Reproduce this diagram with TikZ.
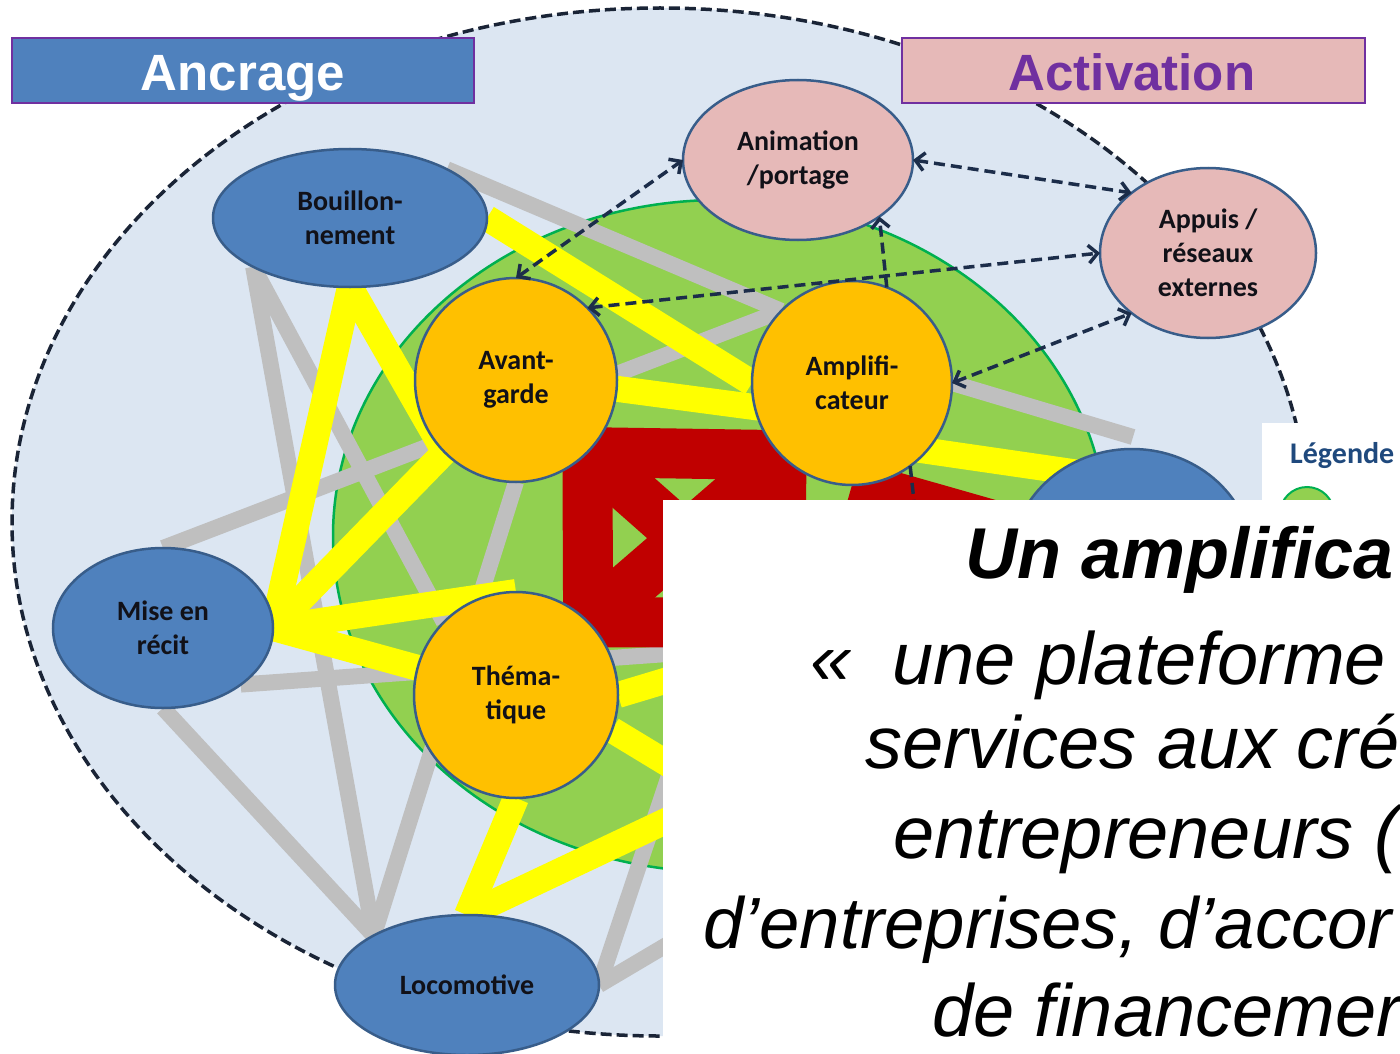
\documentclass[tikz,border=0pt]{standalone}
\usepackage{fontspec}
\setmainfont{Carlito}
\newfontfamily\arialf{Liberation Sans}
\usetikzlibrary{arrows.meta,shapes.geometric,calc}
\definecolor{bgblue}{HTML}{DCE6F2}
\definecolor{grn}{HTML}{92D050}
\definecolor{grnb}{HTML}{00B050}
\definecolor{lgray}{HTML}{BFBFBF}
\definecolor{lyellow}{HTML}{FFFF00}
\definecolor{lred}{HTML}{C00000}
\definecolor{ndblue}{HTML}{4F81BD}
\definecolor{ndborder}{HTML}{385D8A}
\definecolor{ndorange}{HTML}{FFC000}
\definecolor{ndpink}{HTML}{E6B9B8}
\definecolor{ndtext}{HTML}{111118}
\definecolor{purp}{HTML}{7030A0}
\definecolor{arrownavy}{HTML}{1C2D4A}
\definecolor{ringdark}{HTML}{1A2436}
\definecolor{legblue}{HTML}{1F497D}
\pgfdeclarelayer{bg}
\pgfdeclarelayer{lines}
\pgfdeclarelayer{top}
\pgfsetlayers{bg,lines,main,top}
\begin{document}
\begin{tikzpicture}[x=1pt,y=-1pt,
  nd/.style={ellipse, draw=ndborder, line width=2.5pt, inner sep=0pt, outer sep=0pt, align=center, text=ndtext, font=\bfseries\fontsize{28}{34}\selectfont},
  bnode/.style={nd, fill=ndblue},
  onode/.style={nd, fill=ndorange},
  pnode/.style={nd, fill=ndpink},
  gl/.style={draw=lgray, line width=16pt},
  yl/.style={draw=lyellow, line width=26pt},
  rl/.style={draw=lred, line width=50pt},
  da/.style={draw=arrownavy, line width=3.5pt, dash pattern=on 11pt off 6pt},
  dboth/.style={da, arrows={Straight Barb[length=9pt,width=18pt]-Straight Barb[length=9pt,width=18pt]}},
  dend/.style={da, arrows={-Straight Barb[length=9pt,width=18pt]}},
  ovt/.style={anchor=base west, inner sep=0pt, text=black, font=\arialf\itshape\fontsize{74}{74}\selectfont},
  titlebox/.style={draw=purp, line width=2pt, inner sep=0pt, minimum height=65pt},
  titletext/.style={anchor=base, inner sep=0pt, font=\arialf\bfseries\fontsize{51}{51}\selectfont}
]
\useasboundingbox (0,0) rectangle (1400,1054);
\begin{pgfonlayer}{bg}
\fill[white] (0,0) rectangle (1400,1054);
\draw[draw=ringdark, line width=3.5pt, dash pattern=on 11pt off 5pt, fill=bgblue] (660,522) ellipse [x radius=648pt, y radius=514pt];
\draw[draw=grnb, line width=2.5pt, fill=grn] (720,536) ellipse [x radius=387pt, y radius=336pt];
\end{pgfonlayer}

% nodes
\node[bnode, minimum width=274pt, minimum height=138pt] (bou) at (350,218) {Bouillon-\\nement};
\node[pnode, minimum width=230pt, minimum height=160pt] (ani) at (798,160) {Animation\\/portage};
\node[pnode, minimum width=216pt, minimum height=170pt] (app) at (1208,253) {Appuis /\\réseaux\\externes};
\node[onode, minimum width=202pt, minimum height=204pt] (avg) at (516,380) {Avant-\\garde};
\node[onode, minimum width=200pt, minimum height=204pt] (amp) at (852,383) {Amplifi-\\cateur};
\node[bnode, minimum width=220pt, minimum height=160pt] (mis) at (163,628) {Mise en\\récit};
\node[onode, minimum width=204pt, minimum height=206pt] (the) at (516,695) {Théma-\\tique};
\node[bnode, minimum width=264pt, minimum height=140pt] (loc) at (467,985) {Locomotive};
\node[bnode, minimum width=242pt, minimum height=224pt] (hidR) at (1132,561) {};

% free ends (under nodes or the panel)
\coordinate (o4nw) at (781,623);
\coordinate (gRend) at (1133,437);
\coordinate (gMisEnd) at (1002,630);
\coordinate (gLoc1) at (711,650);
\coordinate (gLoc2) at (800,866);
\coordinate (yAmpIn) at (852,420);
\coordinate (yAmpOut) at (852,440);
\coordinate (yRend) at (1100,476);
\coordinate (yThe1) at (1000,580);
\coordinate (yThe2) at (800,844);
\coordinate (yLoc) at (780,767);
\coordinate (rAmpEnd) at (1150,570);
\coordinate (dAmpEnd) at (925,600);

\begin{pgfonlayer}{lines}
% gray
\draw[gl] (bou.north east) -- (amp.north west);
\draw[gl] (mis.north) -- (amp.north west);
\draw[gl] (amp.east) -- (gRend);
\draw[gl] (bou.south west) -- (loc.north west);
\draw[gl] (bou.south west) -- (the.north west);
\draw[gl] (mis.south) -- (loc.north west);
\draw[gl] (avg.south) -- (loc.north west);
\draw[gl] (mis.south east) -- (gMisEnd);
\draw[gl] (loc.east) -- (gLoc1);
\draw[gl] (loc.east) -- (gLoc2);
% yellow
\draw[yl] (bou.east) -- (amp.west);
\draw[yl] (avg.-5) -- (yAmpIn);
\draw[yl] (yAmpOut) -- (yRend);
\draw[yl] (bou.south) -- (mis.east);
\draw[yl] (bou.south) -- (avg.south west);
\draw[yl] (avg.south west) -- (mis.east);
\draw[yl] (mis.east) -- (the.north);
\draw[yl] (mis.east) -- (the.center);
\draw[yl] (the.east) -- (yThe1);
\draw[yl] (the.-20) -- (yThe2);
\draw[yl] (loc.north) -- (the.south);
\draw[yl] (loc.north) -- (yLoc);
% red
\draw[rl] (avg.south east) -- (amp.south west) -- (o4nw) -- (the.north east) -- cycle;
\draw[rl] (avg.south east) -- (o4nw);
\draw[rl] (amp.south west) -- (the.north east);
\draw[rl] (amp.south) -- (rAmpEnd);
\end{pgfonlayer}

% dashed arrows
\draw[dboth] (avg.north) -- (ani.west);
\draw[dboth] (ani.east) -- (app.north west);
\draw[dend] (amp.70) -- (ani.south east);
\draw[dboth] (avg.north east) -- (app.west);
\draw[dboth] (amp.east) -- (app.south west);
\draw[da] (amp.-55) -- (dAmpEnd);

% title boxes
\node[titlebox, fill=ndblue, minimum width=462pt] (ancbox) at (243,70.5) {};
\node[titletext, text=white] (anctext) at (243,91) {Ancrage};
\node[titlebox, fill=ndpink, minimum width=463pt] (actbox) at (1133.5,70.5) {};
\node[titletext, text=purp] (acttext) at (1132,91) {Activation};

\begin{pgfonlayer}{top}
\node[fill=white, anchor=north west, minimum width=138pt, minimum height=77pt, inner sep=0pt] (legbox) at (1262,423) {};
\node[anchor=base west, inner sep=0pt, text=legblue, font=\bfseries\fontsize{30}{30}\selectfont] (legtext) at (1290,463) {Légende};
\node[circle, draw=grnb, line width=2pt, fill=grn, minimum size=54pt, inner sep=0pt] (legdot) at (1307,514) {};
\node[fill=white, anchor=north west, minimum width=737pt, minimum height=554pt, inner sep=0pt] (panel) at (663,500) {};
\node[ovt, font=\arialf\bfseries\itshape\fontsize{72}{72}\selectfont] (t1) at (965,578) {Un amplifica};
\node[ovt] (t2) at (810,684) {«\ \ une plateforme};
\node[ovt] (t3) at (865,768) {services aux cré};
\node[ovt] (t4) at (893,858) {entrepreneurs (};
\node[ovt, font=\arialf\itshape\fontsize{72.5}{72.5}\selectfont] (t5) at (703,948) {d’entreprises, d’accor};
\node[ovt] (t6) at (932,1036) {de financemer};
\end{pgfonlayer}
\end{tikzpicture}
\end{document}
